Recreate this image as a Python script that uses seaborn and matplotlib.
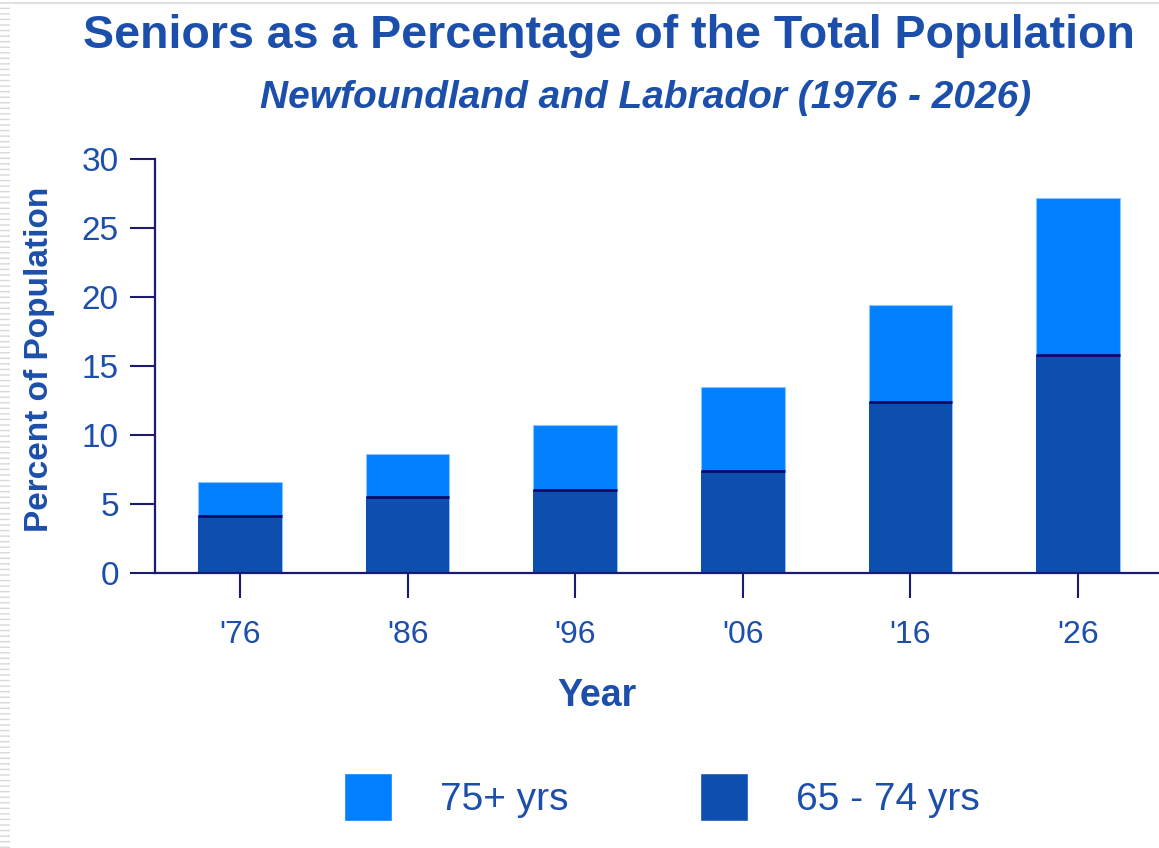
import numpy as np
import pandas as pd
import matplotlib
matplotlib.use('Agg')
import matplotlib.pyplot as plt
import seaborn as sns
from matplotlib.patches import Patch, Rectangle

years = ["'76", "'86", "'96", "'06", "'16", "'26"]
age_65_74 = [4.1, 5.5, 6.0, 7.4, 12.4, 15.8]
age_75_plus = [2.5, 3.15, 4.7, 6.05, 7.0, 11.4]

light_blue = '#0080ff'
dark_blue = '#0d4fae'
text_blue = '#1c4fab'
navy = '#1a1a6e'

sns.set_style('white')
plt.rcParams['font.family'] = ['Liberation Sans', 'DejaVu Sans']

df = pd.DataFrame({'year': years, 'young': age_65_74, 'old': age_75_plus})
df['total'] = df['young'] + df['old']

fig = plt.figure(figsize=(11.59, 8.48), dpi=100)
ax = fig.add_axes([0.1337, 0.3243, 0.8663, 0.4882])

sns.barplot(data=df, x='year', y='total', color=light_blue, width=0.5,
            saturation=1, edgecolor='#8cc4ff', linewidth=0.8, ax=ax)
sns.barplot(data=df, x='year', y='young', color=dark_blue, width=0.5,
            saturation=1, linewidth=0, ax=ax)
# dark line on top of the lower segment
ax.hlines(df['young'], np.arange(len(years)) - 0.25, np.arange(len(years)) + 0.25,
          color='#0a0a6a', linewidth=2)

ax.set_xlim(-0.507, 5.483)
ax.set_ylim(0, 30)
ax.set_yticks(range(0, 31, 5))

for s in ['top', 'right']:
    ax.spines[s].set_visible(False)
for s in ['left', 'bottom']:
    ax.spines[s].set_color(navy)
    ax.spines[s].set_linewidth(1.6)

ax.tick_params(axis='both', direction='out', length=18, width=1.5,
               bottom=True, left=True,
               color=navy, labelcolor=text_blue, pad=8)
ax.tick_params(axis='y', labelsize=24)
ax.tick_params(axis='x', labelsize=23, pad=16)

ax.set_xlabel('Year', fontsize=27, fontweight='bold', color=text_blue)
ax.xaxis.set_label_coords(0.44, -0.254)
ax.set_ylabel('Percent of Population', fontsize=24, fontweight='bold', color=text_blue,
              family=['Liberation Sans Narrow', 'Liberation Sans'])
ax.yaxis.set_label_coords(-0.1, 0.515)

fig.text(0.525, 0.957, 'Seniors as a Percentage of the Total Population',
         ha='center', va='center', fontsize=33.5, fontweight='bold', color=text_blue)
fig.text(0.557, 0.884, 'Newfoundland and Labrador (1976 - 2026)',
         ha='center', va='center', fontsize=28, fontweight='bold', style='italic',
         color=text_blue)

handles = [Patch(facecolor=light_blue, label='75+ yrs'),
           Patch(facecolor=dark_blue, label='65 - 74 yrs')]
fig.legend(handles=handles, loc='center', bbox_to_anchor=(0.571, 0.06), ncol=2,
           frameon=False, fontsize=28, labelcolor=text_blue,
           handlelength=1.23, handleheight=1.5, handletextpad=1.23, columnspacing=3.4)

# faint striped border on the left edge and top
fig.add_artist(Rectangle((0, 0), 0.009, 1, transform=fig.transFigure,
                         facecolor='white', edgecolor='#d8d8d8', hatch='---', linewidth=0))
fig.add_artist(plt.Line2D([0, 1], [0.996, 0.996], transform=fig.transFigure,
                          color='#e0e0e0', linewidth=1.5))

fig.savefig('out.png', dpi=100)
